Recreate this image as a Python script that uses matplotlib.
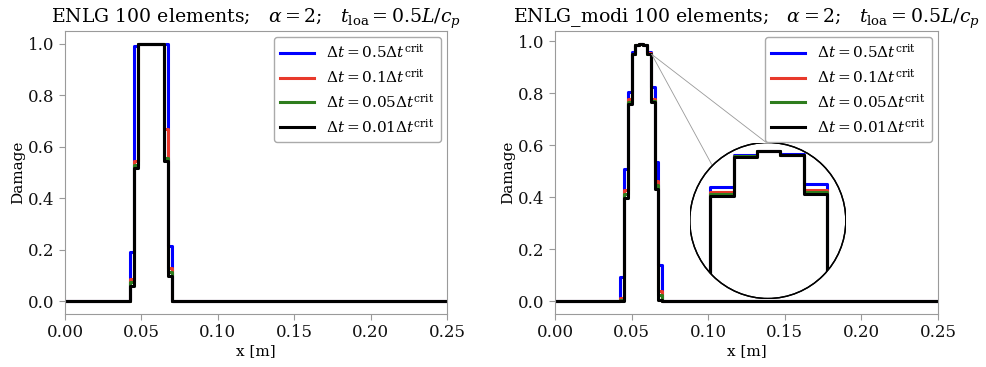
import numpy as np
import matplotlib
matplotlib.use("Agg")
import matplotlib.pyplot as plt
from matplotlib.patches import Circle, ConnectionPatch

plt.rcParams['font.family'] = ['DejaVu Serif']
plt.rcParams['mathtext.fontset'] = 'dejavuserif'

# ---- data ----
n_elements = 100
length = 0.25
first_elem = 17  # index of first element with nonzero damage

series_labels = [r'$\Delta t = 0.5\Delta t^{\rm crit}$',
                 r'$\Delta t = 0.1\Delta t^{\rm crit}$',
                 r'$\Delta t = 0.05\Delta t^{\rm crit}$',
                 r'$\Delta t = 0.01\Delta t^{\rm crit}$']
series_colors = ['#0000ff', '#e8392b', '#2e7d1e', '#000000']

# ENLG (left): damage of elements 17..27
enlg_dt05 = [0.19, 0.99, 1.0, 1.0, 1.0, 1.0, 1.0, 1.0, 1.0, 1.0, 0.214]
enlg_dt01 = [0.088, 0.544, 1.0, 1.0, 1.0, 1.0, 1.0, 1.0, 1.0, 0.669, 0.127]
enlg_dt005 = [0.076, 0.531, 1.0, 1.0, 1.0, 1.0, 1.0, 1.0, 1.0, 0.557, 0.115]
enlg_dt001 = [0.059, 0.518, 1.0, 1.0, 1.0, 1.0, 1.0, 1.0, 1.0, 0.544, 0.096]

# ENLG_modi (right): damage of elements 17..27
modi_dt05 = [0.094, 0.51, 0.804, 0.9575, 0.986, 0.99, 0.987, 0.9604, 0.823, 0.535, 0.138]
modi_dt01 = [0.012, 0.426, 0.779, 0.953, 0.9855, 0.99, 0.9865, 0.955, 0.779, 0.461, 0.038]
modi_dt005 = [0.006, 0.414, 0.766, 0.9515, 0.985, 0.99, 0.986, 0.953, 0.772, 0.448, 0.023]
modi_dt001 = [0.0, 0.398, 0.757, 0.95, 0.9847, 0.99, 0.986, 0.9512, 0.766, 0.433, 0.004]

x_ticks = [0.00, 0.05, 0.10, 0.15, 0.20, 0.25]
y_ticks = [0.0, 0.2, 0.4, 0.6, 0.8, 1.0]

edges = np.linspace(0.0, length, n_elements + 1)


def full_profile(vals):
    d = np.zeros(n_elements)
    d[first_elem:first_elem + len(vals)] = vals
    return np.append(d, d[-1])


fig = plt.figure(figsize=(9.86, 3.67), dpi=100)
ax1 = fig.add_axes([0.0659, 0.1444, 0.3874, 0.771])
ax2 = fig.add_axes([0.5629, 0.1444, 0.3884, 0.771])

lw = 2.2
spine_col = '#9a9a9a'


def style(ax, title):
    for s in ax.spines.values():
        s.set_color(spine_col)
    ax.tick_params(colors=spine_col, labelcolor='#111111', labelsize=12, length=4)
    ax.set_xlim(0, 0.25)
    ax.set_xticks(x_ticks)
    ax.set_yticks(y_ticks)
    ax.set_xlabel('x [m]', fontsize=11, labelpad=2)
    ax.set_ylabel('Damage', fontsize=11, labelpad=2)
    ax.set_title(title, fontsize=13.6, pad=4)


left_data = [enlg_dt05, enlg_dt01, enlg_dt005, enlg_dt001]
right_data = [modi_dt05, modi_dt01, modi_dt005, modi_dt001]

for vals, c, lab in zip(left_data, series_colors, series_labels):
    ax1.plot(edges, full_profile(vals), drawstyle='steps-post', color=c, lw=lw, label=lab)
for vals, c, lab in zip(right_data, series_colors, series_labels):
    ax2.plot(edges, full_profile(vals), drawstyle='steps-post', color=c, lw=lw, label=lab)

style(ax1, r'ENLG 100 elements;   $\alpha = 2$;   $t_{\rm loa} = 0.5L/c_p$')
style(ax2, r'ENLG_modi 100 elements;   $\alpha = 2$;   $t_{\rm loa} = 0.5L/c_p$')

for ax in (ax1, ax2):
    leg = ax.legend(loc='upper right', fontsize=11, handlelength=2.2, borderaxespad=0.4,
                    labelspacing=0.45, framealpha=1)
    leg.get_frame().set_edgecolor('#aaaaaa')

# ---- circular zoom inset on right panel ----
cx, cy, r = 767.8 / 986, (367 - 220.5) / 367, 78
axins = fig.add_axes([cx - r / 986, cy - r / 367, 2 * r / 986, 2 * r / 367])
axins.set_axis_off()
circ = Circle((0.5, 0.5), 0.5, transform=axins.transAxes, facecolor='white',
              edgecolor='black', lw=1.0, zorder=0)
axins.add_patch(circ)
for vals, c in zip(right_data, series_colors):
    ln, = axins.plot(edges, full_profile(vals), drawstyle='steps-post', color=c, lw=lw)
    ln.set_clip_path(circ)
axins.set_xlim(0.0478, 0.0645)
axins.set_ylim(0.8586, 0.9973)
circ2 = Circle((0.5, 0.5), 0.5, transform=axins.transAxes, facecolor='none',
               edgecolor='black', lw=1.0, zorder=5)
axins.add_patch(circ2)

for tgt in [(0.49, 1.0), (0.14, 0.86)]:
    con = ConnectionPatch(xyA=(0.0631, 0.95), coordsA=ax2.transData,
                          xyB=tgt, coordsB=axins.transAxes,
                          color='#999999', lw=0.6)
    fig.add_artist(con)

fig.savefig('out.png', dpi=100)
